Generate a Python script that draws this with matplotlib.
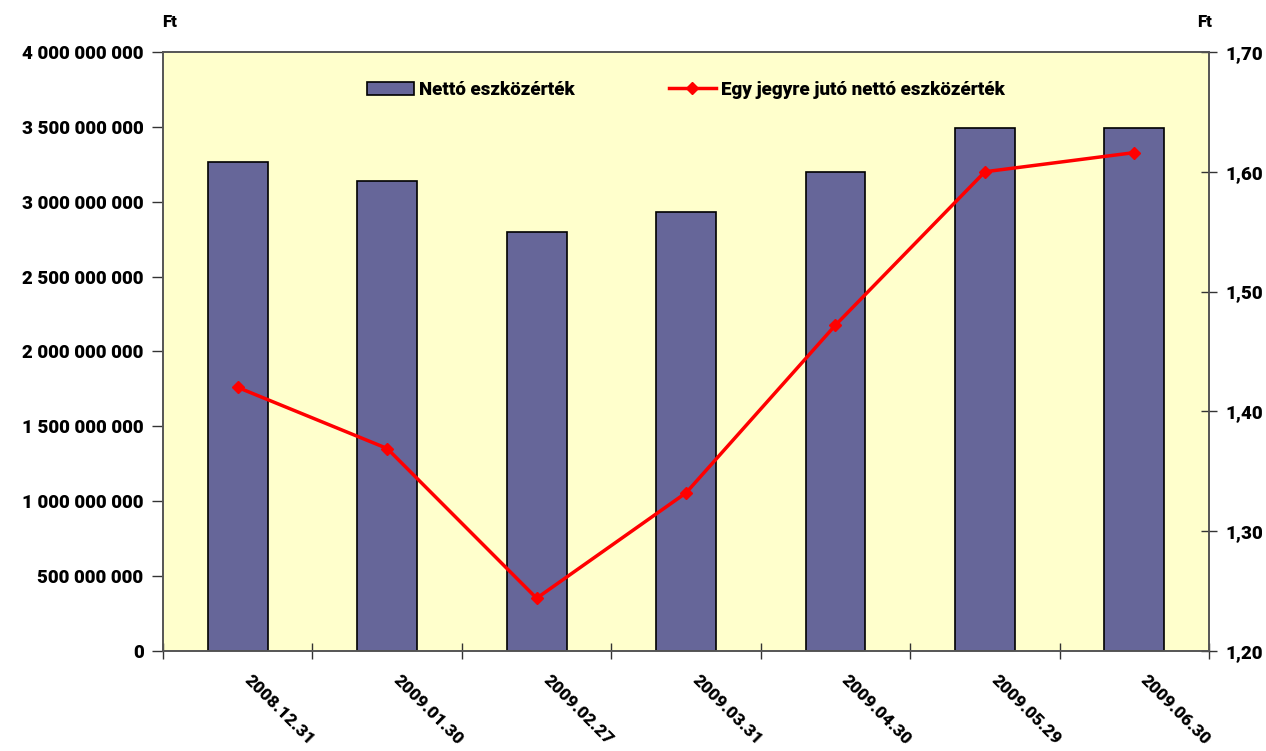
import matplotlib
matplotlib.use('Agg')
import matplotlib.pyplot as plt
import numpy as np

# adatok
dates = ['2008.12.31', '2009.01.30', '2009.02.27', '2009.03.31',
         '2009.04.30', '2009.05.29', '2009.06.30']
netto = [3265e6, 3139e6, 2798e6, 2932e6, 3199e6, 3492e6, 3495e6]
egy_jegyre = [1.420, 1.369, 1.244, 1.332, 1.472, 1.600, 1.616]

plt.rcParams['font.family'] = ['Roboto', 'DejaVu Sans']
plt.rcParams['font.weight'] = 'black'
FS = 13.5
W = 'black'

fig = plt.figure(figsize=(12.66, 7.51), dpi=100)
ax = fig.add_axes([0.1288, 0.1332, 0.8262, 0.7976])
ax.set_facecolor('#FFFFCC')

x = np.arange(len(dates))
bars = ax.bar(x, netto, width=0.4, color='#666699', edgecolor='black',
              linewidth=1.2, label='Nettó eszközérték', zorder=2)
ax.set_xlim(-0.5, len(dates) - 0.5)
ax.set_ylim(0, 4e9)
yt = np.arange(0, 4.01e9, 5e8)
ax.set_yticks(yt)
ax.set_yticklabels([f'{int(v):,}'.replace(',', ' ') for v in yt],
                   fontsize=FS, fontweight=W)
ax.set_xticks(np.arange(-0.5, len(dates)))
ax.set_xticklabels([])
ax.tick_params(axis='x', direction='inout', length=12, width=1, color='#333333')
ax.tick_params(axis='y', direction='out', length=8, width=1, color='#333333', pad=6)

# dátumok ferdén
for i, d in enumerate(dates):
    ax.text(i + 0.06, -0.045, d, transform=ax.get_xaxis_transform(),
            rotation=-45, rotation_mode='anchor', ha='left', va='center',
            fontsize=12.5, fontweight=W)

ax2 = ax.twinx()
line, = ax2.plot(x, egy_jegyre, color='red', linewidth=2.5, marker='D',
                 markersize=6, label='Egy jegyre jutó nettó eszközérték', zorder=3)
ax2.set_ylim(1.2, 1.7)
rt = np.arange(1.2, 1.701, 0.1)
ax2.set_yticks(rt)
ax2.set_yticklabels([f'{v:.2f}'.replace('.', ',') for v in rt],
                    fontsize=FS, fontweight=W)
ax2.tick_params(axis='y', direction='inout', length=12, width=1, color='#333333', pad=6)

for a in (ax, ax2):
    for s in a.spines.values():
        s.set_color('#555555')
        s.set_linewidth(1.2)

fig.text(170 / 1266, 1 - 22 / 751, 'Ft', ha='center', va='center', fontsize=12, fontweight=W)
fig.text(1205 / 1266, 1 - 22 / 751, 'Ft', ha='center', va='center', fontsize=12, fontweight=W)

leg = ax.legend([bars, line], ['Nettó eszközérték', 'Egy jegyre jutó nettó eszközérték'],
                loc='upper center', bbox_to_anchor=(0.5, 0.98), ncol=2, frameon=False,
                fontsize=FS, columnspacing=5, handlelength=2.5, handletextpad=0.3)
for t in leg.get_texts():
    t.set_fontweight(W)

fig.savefig('out.png', dpi=100)
